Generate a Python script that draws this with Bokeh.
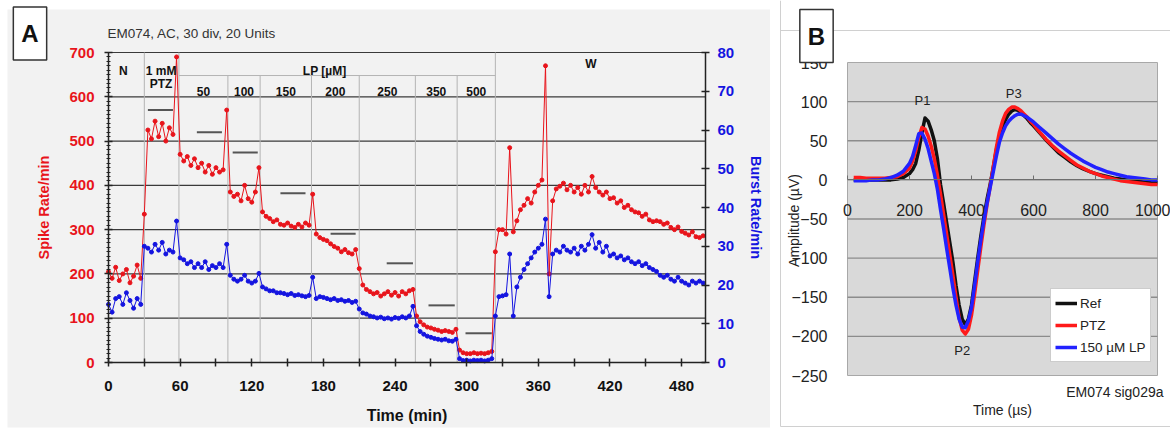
import math
from bokeh.plotting import figure
from bokeh.models import (Range1d, LinearAxis, SingleIntervalTicker, FixedTicker, Label,
                          Legend, LegendItem)
from bokeh.layouts import row
from bokeh.embed import file_html
from bokeh.resources import INLINE

FONT = "Liberation Sans"

# ---------------- Panel A data ----------------
time_min = list(range(0, 501, 3))
spike_rate = [
    205, 190, 215, 185, 200, 210, 180, 195, 220, 190,
    335, 525, 505, 545, 510, 540, 500, 530, 515, 690,
    470, 455, 465, 445, 460, 440, 450, 430, 445, 425,
    440, 430, 435, 570, 385, 375, 380, 365, 400, 370,
    362, 385, 440, 340, 330, 325, 318, 322, 312, 310,
    315, 308, 305, 312, 306, 315, 310, 380, 290, 282,
    278, 275, 268, 262, 258, 250, 255, 248, 245, 255,
    212, 175, 165, 160, 155, 158, 150, 155, 160, 152,
    158, 150, 160, 155, 162, 165, 105, 92, 85, 80,
    78, 75, 73, 70, 72, 70, 68, 75, 28, 22,
    20, 20, 22, 20, 21, 20, 22, 25, 250, 300,
    300, 290, 485, 295, 320, 345, 355, 370, 360, 385,
    400, 412, 670, 200, 365, 392, 398, 405, 390, 400,
    385, 395, 380, 400, 385, 420, 395, 385, 378, 385,
    370, 372, 360, 365, 350, 355, 345, 340, 338, 330,
    335, 322, 318, 320, 318, 312, 315, 305, 300, 306,
    296, 292, 288, 295, 284, 282, 286,
]
burst_rate = [
    15, 13, 16.5, 17, 15, 18, 16, 14, 16.5, 15,
    30, 29.5, 28.5, 30.5, 29, 31, 28, 29, 28.5, 36.5,
    27, 26.5, 25.5, 26, 24.5, 25.5, 24.5, 26, 24, 25,
    24.5, 25.5, 24.5, 30.5, 22.5, 21.5, 21, 21.5, 22.5, 21,
    20.5, 21, 23, 19.5, 19, 18.5, 18.5, 18, 18, 17.8,
    17.5, 17.8, 17.3, 17.5, 17.2, 17, 17.3, 22, 16.5, 17,
    16.8, 16.5, 16.2, 16.5, 16, 16.2, 15.8, 16, 15.5, 15.8,
    13.8, 12.8, 12.5, 12, 11.8, 11.5, 11.7, 11.3, 11.5, 11.2,
    11.6, 11.4, 11.8, 11.5, 12, 14.5, 9.5, 8, 7.3, 6.8,
    6.5, 6.2, 6, 5.8, 6, 5.6, 5.5, 6, 1, 0.5,
    0.6, 0.4, 0.6, 0.5, 0.6, 0.4, 0.6, 1, 12, 17,
    17.2, 17.5, 28, 12, 19.5, 22, 24, 25.5, 27, 28.5,
    29.5, 30.5, 37, 17, 28, 29, 28.5, 30, 29, 28.5,
    29.5, 28, 30, 29, 30.5, 33, 29.5, 31, 28.5, 30,
    27.5, 28, 27, 27.5, 26.5, 27, 26, 25.5, 26, 25,
    25.5, 24.5, 24, 23.5, 22.5, 22, 22.5, 21.5, 21, 22,
    21, 20.5, 20, 21, 20.5, 21, 20.5,
]
phase_full = [30, 59, 324]
phase_lp = [100, 127, 170, 210, 257, 292]
lp_bracket = 648
lp_edges = [59, 100, 127, 170, 210, 257, 292, 324]
lp_conc = ["50", "100", "150", "200", "250", "350", "500"]
ref_start = [33, 74, 104, 144, 186, 233, 268, 299]
ref_end = [54, 95, 125, 165, 207, 255, 290, 321]
ref_level = [570, 520, 474, 382, 291, 224, 129, 66]
x_ticks_a = list(range(0, 501, 30))
spike_grid = [100, 200, 300, 400, 500, 600, 700]
T_MAX, SPIKE_MAX, BURST_MAX = 500, 700, 80

# ---------------- Panel B data ----------------
t_us = list(range(20, 201, 20)) + list(range(210, 601, 10)) + list(range(620, 1001, 20))
amp_ref = [0, 0, 0, 0, 0, 0, 0, 1, 3, 8,
           13, 21, 38, 60, 79, 75, 64, 50, 27, -6,
           -30, -55, -80, -105, -135, -160, -178, -185, -178, -160,
           -130, -100, -72, -47, -25, -6, 15, 38, 56, 68,
           77, 84, 88, 90, 89, 86, 82, 78, 73, 69,
           60, 51, 43, 35, 29, 23, 18, 14, 11, 8,
           6, 4, 2, 1, 0, -1, -2, -3, -3, -4]
amp_ptz = [3, 3, 2, 2, 2, 2, 3, 4, 8, 15,
           24, 37, 54, 67, 65, 56, 43, 27, 6, -18,
           -44, -70, -96, -122, -150, -176, -192, -197, -191, -173,
           -146, -116, -86, -58, -32, -9, 16, 41, 61, 75,
           85, 90, 93, 93, 91, 88, 84, 80, 75, 71,
           61, 52, 44, 37, 31, 25, 19, 15, 11, 8,
           5, 3, 1, -1, -2, -3, -4, -5, -6, -6]
amp_lp = [-1, -1, -1, 0, 0, 1, 3, 6, 11, 21,
          30, 44, 59, 60, 52, 40, 24, 8, -12, -38,
          -62, -88, -113, -138, -160, -178, -188, -189, -180, -163,
          -135, -105, -77, -52, -30, -10, 10, 30, 48, 60,
          69, 75, 79, 82, 84, 84, 82, 80, 77, 74,
          67, 60, 53, 46, 40, 34, 29, 24, 20, 16,
          13, 10, 8, 6, 4, 3, 2, 1, 0, 0]
series_names = ["Ref", "PTZ", "150 µM LP"]
peak_names = ["P1", "P2", "P3"]
peak_t = [242, 370, 536]
peak_v = [101, -218, 110]
amp_grid = [-200, -150, -100, -50, 0, 50, 100]
T_US_MAX, AMP_MIN, AMP_MAX = 1000, -250, 150

RED = "#e8141b"
BLUE = "#1414e0"

# ---------------- layout (page pixels) ----------------
A_W, A_H = 770, 428
A_X = (108, 705)   # page x of t = 0 and t = T_MAX
A_Y = (362, 52)    # page y of rate 0 and SPIKE_MAX
kxa = (A_X[1] - A_X[0]) / T_MAX
kya = (A_Y[0] - A_Y[1]) / SPIKE_MAX


def pa_xy(px, py):
    return (px - A_X[0]) / kxa, (A_Y[0] - py) / kya


B_W, B_H, B_OFF = 400, 428, 770
B_X = (847, 1157)  # page x of 0 and 1000 us
B_Y = (375, 62)    # page y of -250 and 150
kxb = (B_X[1] - B_X[0]) / T_US_MAX
kyb = (B_Y[0] - B_Y[1]) / (AMP_MAX - AMP_MIN)


def pb_xy(px, py):
    return (px - B_X[0]) / kxb, AMP_MIN + (B_Y[0] - py) / kyb


def lab(p, x, y, text, size="12px", style="bold", align="center", color="#111111", **kw):
    p.add_layout(Label(x=x, y=y, text=text, text_font=FONT, text_font_size=size,
                       text_font_style=style, text_align=align, text_baseline="middle",
                       text_color=color, **kw))


# ================= Panel A =================
xa0, ya1 = pa_xy(0, 0)
xa1, ya0 = pa_xy(A_W, A_H)
ratio = SPIKE_MAX / BURST_MAX
pa = figure(width=A_W, height=A_H, x_range=Range1d(xa0, xa1), y_range=Range1d(ya0, ya1),
            output_backend="svg", toolbar_location=None, min_border=0,
            background_fill_color="white", border_fill_color="white", outline_line_color=None)
pa.extra_y_ranges = {"burst": Range1d(ya0 / ratio, ya1 / ratio)}
pa.xgrid.visible = False
pa.ygrid.visible = False

gx0, gy0 = pa_xy(7, 9)
gx1, gy1 = pa_xy(A_W + 5, 427)
pa.quad(left=[gx0], right=[gx1], bottom=[gy1], top=[gy0], fill_color="#f2f2f2",
        line_color=None, level="image")
pa.segment(x0=[0] * len(spike_grid), y0=spike_grid, x1=[T_MAX] * len(spike_grid), y1=spike_grid,
           line_color="#3a3a3a", line_width=1.2, level="underlay")
pa.segment(x0=phase_full, y0=[0] * len(phase_full), x1=phase_full, y1=[SPIKE_MAX] * len(phase_full),
           line_color="#b4b4b4", line_width=1, level="underlay")
pa.segment(x0=phase_lp, y0=[0] * len(phase_lp), x1=phase_lp, y1=[lp_bracket] * len(phase_lp),
           line_color="#b4b4b4", line_width=1, level="underlay")
pa.segment(x0=[lp_edges[0]], y0=[lp_bracket], x1=[lp_edges[-1]], y1=[lp_bracket],
           line_color="#b4b4b4", line_width=1, level="underlay")
pa.segment(x0=ref_start, y0=ref_level, x1=ref_end, y1=ref_level, line_color="#555555", line_width=2)

pa.line(time_min, spike_rate, line_color=RED, line_width=1)
pa.scatter(time_min, spike_rate, size=4, color=RED)
pa.line(time_min, burst_rate, line_color=BLUE, line_width=1, y_range_name="burst")
pa.scatter(time_min, burst_rate, size=4, color=BLUE, y_range_name="burst")

xa = pa.xaxis[0]
xa.fixed_location = 0
xa.bounds = (0, T_MAX)
xa.ticker = FixedTicker(ticks=x_ticks_a)
xa.major_label_overrides = {v: "" for v in x_ticks_a if v % 60 != 0}
xa.axis_label = "Time (min)"
yl = pa.yaxis[0]
yl.fixed_location = 0
yl.bounds = (0, SPIKE_MAX)
yl.ticker = SingleIntervalTicker(interval=100, num_minor_ticks=10)
yl.axis_label = "Spike Rate/min"
yr = LinearAxis(y_range_name="burst", ticker=SingleIntervalTicker(interval=10, num_minor_ticks=0),
                axis_label="Burst Rate/min", fixed_location=T_MAX, bounds=(0, BURST_MAX))
pa.add_layout(yr, "right")

for ax, col in ((xa, "#111111"), (yl, RED), (yr, BLUE)):
    ax.axis_line_color = "#222222"
    ax.axis_line_width = 1.5
    ax.major_tick_line_color = "#222222"
    ax.major_tick_line_width = 1.5
    ax.major_tick_in = 4
    ax.major_tick_out = 4
    ax.major_label_text_font = FONT
    ax.major_label_text_font_style = "bold"
    ax.major_label_text_font_size = "15px"
    ax.major_label_text_color = col
    ax.axis_label_text_font = FONT
    ax.axis_label_text_font_style = "bold"
    ax.axis_label_text_color = col
yl.minor_tick_line_color = "#222222"
yl.minor_tick_in = 2
yl.minor_tick_out = 2
yr.minor_tick_line_color = None
xa.minor_tick_line_color = None
xa.major_label_standoff = 14
xa.axis_label_standoff = 13
xa.axis_label_text_font_size = "16px"
yl.major_label_standoff = 10
yl.axis_label_standoff = 14
yl.axis_label_text_font_size = "14.5px"
yr.major_label_standoff = 8
yr.axis_label_standoff = 11
yr.axis_label_text_font_size = "14.5px"

tx, ty = pa_xy(107, 33)
lab(pa, tx, ty, "EM074, AC, 30 div, 20 Units", size="13.5px", style="normal", align="left",
    color="#333333")
lab(pa, 12.5, 659, "N")
lab(pa, 44, 659, "1 mM")
lab(pa, 44, 630, "PTZ")
lab(pa, 181, 659, "LP [µM]")
lab(pa, 404, 674, "W")
for i, c in enumerate(lp_conc):
    lab(pa, (lp_edges[i] + lp_edges[i + 1]) / 2, 612, c)
bx, by = pa_xy(29.5, 33)
pa.add_layout(Label(x=bx, y=by, text="A", text_font=FONT, text_font_size="24px",
                    text_font_style="bold", text_align="center", text_baseline="middle",
                    text_color="#111111", background_fill_color="white",
                    border_line_color="#333333", border_line_width=1.5, padding=(8, 13)))

# ================= Panel B =================
xb0, yb1 = pb_xy(B_OFF, 0)
xb1, yb0 = pb_xy(B_OFF + B_W, B_H)
pb = figure(width=B_W, height=B_H, x_range=Range1d(xb0, xb1), y_range=Range1d(yb0, yb1),
            output_backend="svg", toolbar_location=None, min_border=0,
            background_fill_color="white", border_fill_color="white", outline_line_color=None)
pb.xgrid.visible = False
pb.ygrid.visible = False

fx, fy_top = pb_xy(780, 30)
_, fy_bot = pb_xy(780, 426)
fx_end, _ = pb_xy(B_OFF + B_W + 5, 0)
pb.segment(x0=[fx, fx, fx], y0=[yb1, fy_top, fy_bot], x1=[fx, fx_end, fx_end], y1=[fy_bot, fy_top, fy_bot],
           line_color="#d0d0d0", line_width=1, level="image")
pb.quad(left=[0], right=[T_US_MAX], bottom=[AMP_MIN], top=[AMP_MAX], fill_color="#d9d9d9",
        line_color="#a8a8a8", line_width=1, level="image")
pb.segment(x0=[0] * len(amp_grid), y0=amp_grid, x1=[T_US_MAX] * len(amp_grid), y1=amp_grid,
           line_color="#8c8c8c", line_width=1.3, level="underlay")

r_ref = pb.line(t_us, amp_ref, line_color="#111111", line_width=3.5, line_join="round")
r_ptz = pb.line(t_us, amp_ptz, line_color="#ff1a1a", line_width=3.5, line_join="round")
r_lp = pb.line(t_us, amp_lp, line_color="#2222ff", line_width=3.5, line_join="round")

xb = pb.xaxis[0]
xb.fixed_location = 0
xb.bounds = (0, T_US_MAX)
xb.ticker = SingleIntervalTicker(interval=200, num_minor_ticks=0)
xb.axis_line_color = "#6e6e6e"
xb.major_tick_line_color = "#6e6e6e"
xb.major_tick_in = 4
xb.major_tick_out = 0
xb.minor_tick_line_color = None
xb.major_label_standoff = 24
yb = pb.yaxis[0]
yb.fixed_location = 0
yb.bounds = (AMP_MIN, AMP_MAX)
yb.ticker = SingleIntervalTicker(interval=50, num_minor_ticks=0)
yb.axis_line_color = None
yb.major_tick_line_color = None
yb.minor_tick_line_color = None
yb.major_label_standoff = 14
for ax in (xb, yb):
    ax.major_label_text_font = FONT
    ax.major_label_text_font_size = "16px"
    ax.major_label_text_color = "#222222"

legend = Legend(items=[LegendItem(label=series_names[0], renderers=[r_ref]),
                       LegendItem(label=series_names[1], renderers=[r_ptz]),
                       LegendItem(label=series_names[2], renderers=[r_lp])],
                location=(1050 - B_OFF, B_H - 362), background_fill_color="white",
                background_fill_alpha=1, border_line_color="#9a9a9a", label_text_font=FONT,
                label_text_font_size="13.5px", label_text_color="#222222", glyph_width=22,
                glyph_height=20, spacing=2, padding=4, margin=0, label_standoff=3, label_height=20)
pb.add_layout(legend)

for name, t, v in zip(peak_names, peak_t, peak_v):
    lab(pb, t, v, name, size="13px", style="normal", color="#222222")
ex, ey = pb_xy(1163, 391)
lab(pb, ex, ey, "EM074 sig029a", size="14px", style="normal", align="right", color="#222222")
tx, ty = pb_xy(1002, 409)
lab(pb, tx, ty, "Time (µs)", size="14px", style="normal", color="#222222")
ax_x, ax_y = pb_xy(793, 220)
lab(pb, ax_x, ax_y, "Amplitude (µV)", size="14px", style="normal", color="#222222",
    angle=math.pi / 2)
bx, by = pb_xy(816, 35.5)
pb.add_layout(Label(x=bx, y=by, text="B", text_font=FONT, text_font_size="24px",
                    text_font_style="bold", text_align="center", text_baseline="middle",
                    text_color="#111111", background_fill_color="white",
                    border_line_color="#333333", border_line_width=1.5, padding=(8, 13)))

layout = row(pa, pb)
open("out.html", "w").write(file_html(layout, INLINE))
